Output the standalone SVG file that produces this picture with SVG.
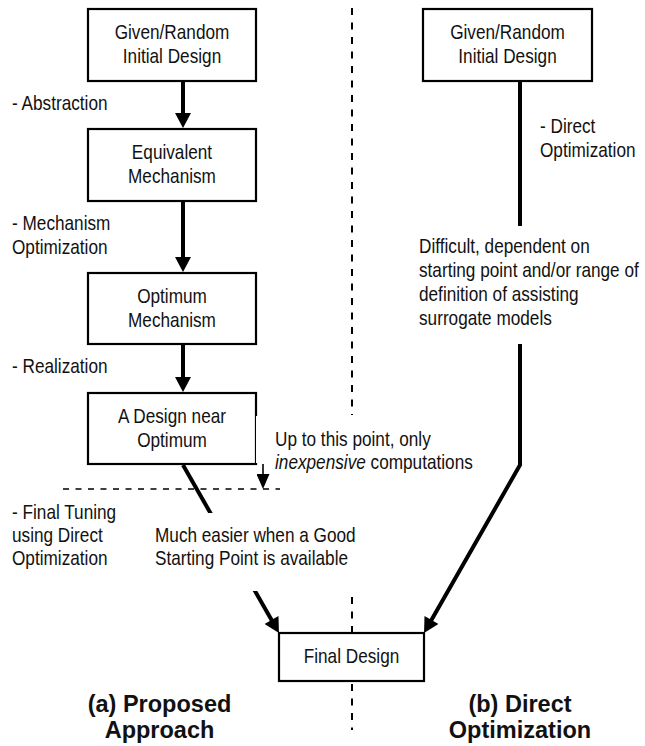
<svg xmlns="http://www.w3.org/2000/svg" width="645" height="746" viewBox="0 0 645 746">
<style>
.t{font-family:"Liberation Sans",Arial,sans-serif;font-size:20px;fill:#111}
.c{text-anchor:middle}
.b{font-family:"Liberation Sans",Arial,sans-serif;font-size:23.5px;font-weight:bold;fill:#111;text-anchor:middle}
.box{fill:#fff;stroke:#000;stroke-width:2.2}
.con{fill:none;stroke:#000;stroke-width:4}
.sep{fill:none;stroke:#000;stroke-width:2;stroke-dasharray:7 7.5}
.bg{fill:#fff}
</style>
<defs>
<marker id="ah" markerUnits="userSpaceOnUse" markerWidth="16" markerHeight="16" viewBox="0 0 15 16" refX="7" refY="8" orient="auto"><path d="M0,0 L15,8 L0,16 z" fill="#000"/></marker>
<marker id="ahs" markerUnits="userSpaceOnUse" markerWidth="15" markerHeight="13" viewBox="0 0 15 13" refX="7" refY="6.5" orient="auto"><path d="M0,0 L15,6.5 L0,13 z" fill="#000"/></marker>
</defs>
<g id="separators">
<line class="sep" x1="352" y1="8" x2="352" y2="415"/>
<line class="sep" x1="352" y1="597" x2="352" y2="730"/>
<line x1="63" y1="489" x2="280" y2="489" stroke="#000" stroke-width="1.6" stroke-dasharray="6 6.5"/>
</g>
<g id="node-initial-a">
<rect class="box" x="88" y="9" width="168" height="72"/>
<text class="t c" transform="translate(172,39) scale(0.86,1)"><tspan x="0">Given/Random</tspan><tspan x="0" dy="24">Initial Design</tspan></text>
</g>
<g id="node-equivalent">
<rect class="box" x="88" y="129" width="168" height="72"/>
<text class="t c" transform="translate(172,159) scale(0.86,1)"><tspan x="0">Equivalent</tspan><tspan x="0" dy="24">Mechanism</tspan></text>
</g>
<g id="node-optimum">
<rect class="box" x="88" y="273" width="168" height="71"/>
<text class="t c" transform="translate(172,303) scale(0.86,1)"><tspan x="0">Optimum</tspan><tspan x="0" dy="24">Mechanism</tspan></text>
</g>
<g id="node-near">
<rect class="box" x="88" y="393" width="168" height="71"/>
<text class="t c" transform="translate(172,423) scale(0.86,1)"><tspan x="0">A Design near</tspan><tspan x="0" dy="24">Optimum</tspan></text>
</g>
<g id="node-initial-b">
<rect class="box" x="423" y="9" width="169" height="72"/>
<text class="t c" transform="translate(507.5,39) scale(0.86,1)"><tspan x="0">Given/Random</tspan><tspan x="0" dy="24">Initial Design</tspan></text>
</g>
<g id="node-final">
<rect class="box" x="279" y="633" width="145" height="48"/>
<text class="t c" transform="translate(351.5,663) scale(0.86,1)">Final Design</text>
</g>
<g id="connectors">
<line class="con" x1="183" y1="81" x2="183" y2="120" marker-end="url(#ah)"/>
<line class="con" x1="183" y1="201" x2="183" y2="264" marker-end="url(#ah)"/>
<line class="con" x1="183" y1="344" x2="183" y2="384" marker-end="url(#ah)"/>
<line class="con" x1="183" y1="465" x2="275" y2="626.1" marker-end="url(#ah)"/>
<path class="con" d="M520,81 V465 L428,626.1" marker-end="url(#ah)"/>
<line x1="263" y1="464" x2="263" y2="481" stroke="#000" stroke-width="1.6" marker-end="url(#ahs)"/>
</g>
<g id="labels">
<text class="t" transform="translate(12,110) scale(0.86,1)">- Abstraction</text>
<text class="t" transform="translate(12,230) scale(0.86,1)"><tspan x="0">- Mechanism</tspan><tspan x="0" dy="24">Optimization</tspan></text>
<text class="t" transform="translate(12,373) scale(0.86,1)">- Realization</text>
<text class="t" transform="translate(12,519) scale(0.86,1)"><tspan x="0">- Final Tuning</tspan><tspan x="0" dy="23">using Direct</tspan><tspan x="0" dy="23">Optimization</tspan></text>
<rect class="bg" x="256" y="416" width="224" height="47"/>
<text class="t" transform="translate(275,446) scale(0.86,1)"><tspan x="0">Up to this point, only</tspan><tspan x="0" dy="23"><tspan font-style="italic">inexpensive</tspan> computations</tspan></text>
<rect class="bg" x="150" y="513" width="205" height="78"/>
<text class="t" transform="translate(155,542) scale(0.86,1)"><tspan x="0">Much easier when a Good</tspan><tspan x="0" dy="23">Starting Point is available</tspan></text>
<text class="t" transform="translate(540,133) scale(0.86,1)"><tspan x="0">- Direct</tspan><tspan x="0" dy="24">Optimization</tspan></text>
<rect class="bg" x="414" y="226" width="228" height="118"/>
<text class="t" transform="translate(419,253) scale(0.86,1)"><tspan x="0">Difficult, dependent on</tspan><tspan x="0" dy="24">starting point and/or range of</tspan><tspan x="0" dy="24">definition of assisting</tspan><tspan x="0" dy="24">surrogate models</tspan></text>
<text class="b" x="159.5" y="712">(a) Proposed<tspan x="159.5" dy="26">Approach</tspan></text>
<text class="b" x="520" y="712">(b) Direct<tspan x="520" dy="26">Optimization</tspan></text>
</g>
</svg>
